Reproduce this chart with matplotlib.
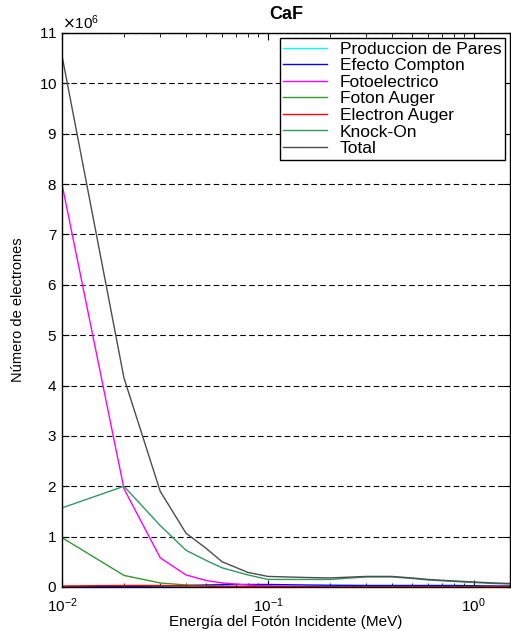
import matplotlib.pyplot as plt
from matplotlib.ticker import ScalarFormatter, LogLocator

plt.rcParams['font.family'] = ['Liberation Sans', 'DejaVu Sans']

# photon energies (MeV)
energia = [0.01, 0.02, 0.03, 0.04, 0.05, 0.06, 0.08, 0.1, 0.15, 0.2,
           0.3, 0.4, 0.5, 0.6, 0.8, 1.0, 1.25, 1.5]

# electrons produced, in millions
pares = [0, 0, 0, 0, 0, 0, 0, 0, 0, 0, 0, 0, 0, 0, 0, 0, 0.002, 0.004]
compton = [0.0, 0.01, 0.02, 0.03, 0.04, 0.045, 0.05, 0.05, 0.04, 0.035,
           0.03, 0.03, 0.03, 0.03, 0.03, 0.025, 0.02, 0.02]
fotoelectrico = [8.0, 1.95, 0.58, 0.24, 0.13, 0.08, 0.04, 0.02, 0.01, 0.005,
                 0, 0, 0, 0, 0, 0, 0, 0]
foton_auger = [0.98, 0.23, 0.08, 0.04, 0.02, 0.01, 0.005, 0, 0, 0,
               0, 0, 0, 0, 0, 0, 0, 0]
electron_auger = [0.02, 0.03, 0.03, 0.02, 0.02, 0.01, 0.01, 0.01, 0.005, 0,
                  0, 0, 0, 0, 0, 0, 0.005, 0.01]
knock_on = [1.57, 2.0, 1.22, 0.73, 0.53, 0.38, 0.24, 0.15, 0.15, 0.15,
            0.2, 0.2, 0.17, 0.14, 0.11, 0.09, 0.07, 0.06]
total = [10.55, 4.15, 1.9, 1.07, 0.77, 0.5, 0.29, 0.21, 0.19, 0.18,
         0.21, 0.21, 0.18, 0.15, 0.12, 0.1, 0.08, 0.07]

series = [
    ("Produccion de Pares", pares, "#00ffff"),
    ("Efecto Compton", compton, "#0000ff"),
    ("Fotoelectrico", fotoelectrico, "#ff00ff"),
    ("Foton Auger", foton_auger, "#339933"),
    ("Electron Auger", electron_auger, "#ff0000"),
    ("Knock-On", knock_on, "#2e9960"),
    ("Total", total, "#4d4d4d"),
]

fig = plt.figure(figsize=(5.11, 6.31), dpi=100)
ax = fig.add_axes([62 / 511, 44 / 631, 448 / 511, 554 / 631])

for nombre, valores, color in series:
    ax.plot(energia, [v * 1e6 for v in valores], color=color, lw=1.0, label=nombre)

ax.set_xscale('log')
ax.set_xlim(0.01, 1.5)
ax.set_ylim(0, 11e6)
ax.set_yticks([i * 1e6 for i in range(12)])

fmt = ScalarFormatter(useMathText=True)
fmt.set_powerlimits((6, 6))
ax.yaxis.set_major_formatter(fmt)
ax.yaxis.get_offset_text().set_fontsize(11)

ax.xaxis.set_major_locator(LogLocator(base=10))
ax.xaxis.set_minor_locator(LogLocator(base=10, subs=range(2, 10)))
ax.tick_params(direction='in', which='both', top=True, right=True, labelsize=11)
ax.tick_params(axis='x', pad=7)
ax.tick_params(which='major', length=5)
ax.tick_params(which='minor', length=3)

ax.yaxis.grid(True, linestyle=(0, (5, 3)), color='black', lw=0.8)

ax.set_title("CaF", fontsize=13, fontweight='bold', pad=10)
ax.set_xlabel("Energía del Fotón Incidente (MeV)", fontsize=11, labelpad=0)
ax.set_ylabel("Número de electrones", fontsize=10.5, labelpad=10)

ax.legend(loc='upper right', fontsize=12.5, frameon=True, fancybox=False,
          edgecolor='black', framealpha=1, borderaxespad=0.3,
          handlelength=2.5, handletextpad=0.75, labelspacing=0.08,
          borderpad=0.2)

for s in ax.spines.values():
    s.set_linewidth(1.0)

fig.savefig("out.png", dpi=100)
